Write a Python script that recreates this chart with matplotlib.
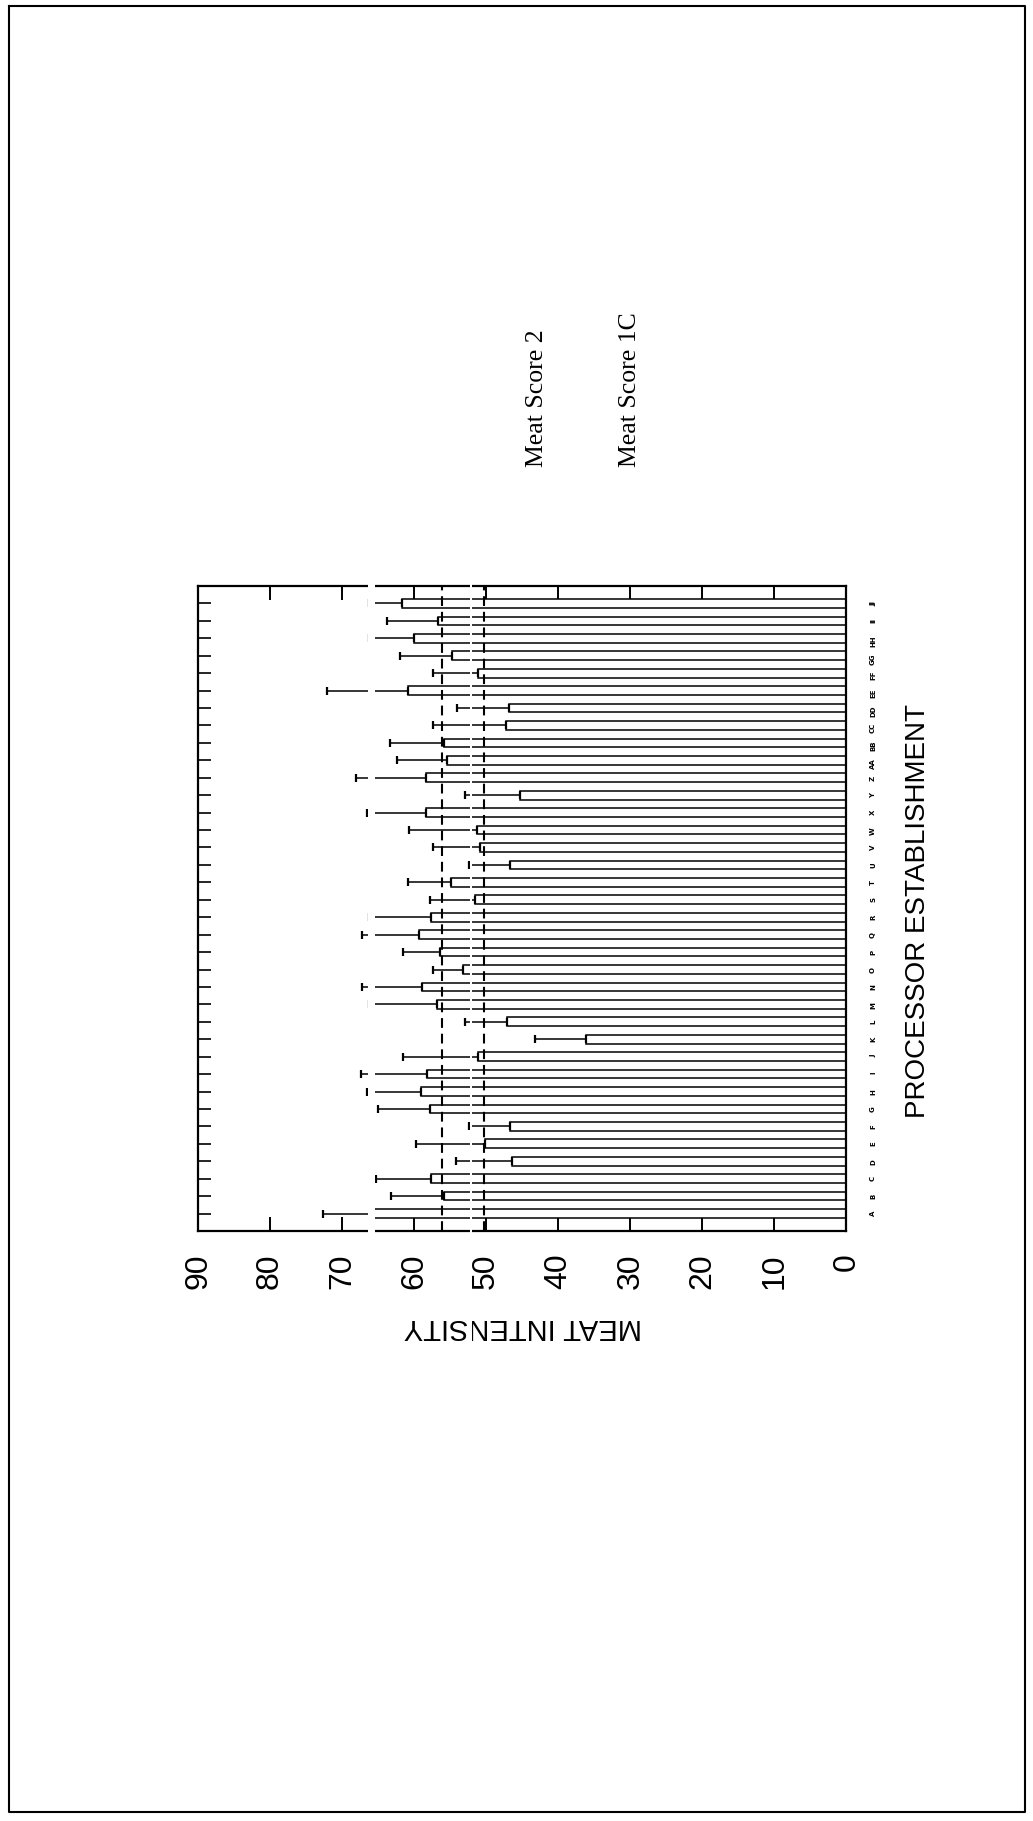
import matplotlib
matplotlib.use('Agg')
import matplotlib.pyplot as plt
import numpy as np

# processor establishments, bottom to top
CATEGORIES = list("ABCDEFGHIJKLMNOPQRSTUVWXYZ") + [c * 2 for c in "ABCDEFGHIJ"]

MEAN_SCORE = [66.0, 55.9, 57.6, 46.4, 50.2, 46.7, 57.8, 59.1, 58.2, 51.1,
              36.2, 47.1, 56.9, 58.9, 53.2, 56.4, 59.3, 57.7, 51.5, 54.9,
              46.7, 50.9, 51.3, 58.4, 45.3, 58.4, 55.4, 55.9, 47.2, 46.8,
              60.9, 51.1, 54.8, 60.0, 56.7, 61.7]

UPPER_LIMIT = [72.6, 63.2, 65.3, 54.2, 59.7, 52.4, 65.0, 66.6, 67.4, 61.6,
               43.2, 53.0, 66.2, 67.3, 57.4, 61.6, 67.3, 66.2, 57.8, 60.8,
               52.4, 57.4, 60.7, 66.5, 52.9, 68.1, 62.4, 63.4, 57.4, 54.1,
               72.1, 57.4, 61.9, 66.2, 63.8, 66.2]

REFERENCE_LINES = [56.1, 50.3]
VALUE_TICKS = list(range(0, 100, 10))

W, H = 1033, 1821
fig = plt.figure(figsize=(W / 100, H / 100), dpi=100)
fig.patch.set_facecolor('white')


def fx(px):
    return px / W


def fy(py):
    return 1 - py / H


ax = fig.add_axes([fx(198), fy(1231), fx(846.5) - fx(198), fy(586) - fy(1231)])

pos = np.arange(1, len(CATEGORIES) + 1)
mean = np.array(MEAN_SCORE)
upper = np.array(UPPER_LIMIT)

ax.barh(pos, mean, height=0.5, color='white', edgecolor='black', linewidth=1.1, zorder=2)
ax.errorbar(mean, pos, xerr=[np.zeros_like(mean), upper - mean], fmt='none',
            ecolor='black', elinewidth=1.1, capsize=3, capthick=1.6, zorder=3)

for v in REFERENCE_LINES:
    ax.axvline(v, color='black', linewidth=1.5, dashes=(4.7, 2.8), zorder=4)

ax.set_xlim(90, 0)
ax.set_ylim(0, len(CATEGORIES) + 1)
ax.set_xticks(VALUE_TICKS)
ax.set_xticklabels([str(t) for t in VALUE_TICKS], family='Liberation Sans', fontsize=23)
ax.set_yticks(pos)
ax.set_yticklabels(CATEGORIES, fontsize=5, fontweight='bold')

ax.tick_params(axis='x', direction='in', top=True, bottom=True, length=10, width=1.4,
               labelrotation=90, pad=16)
ax.tick_params(axis='y', direction='in', left=True, right=True, length=9, width=1.2,
               labelleft=False, labelright=True, labelrotation=90, pad=17)
for sp in ax.spines.values():
    sp.set_linewidth(1.6)

fig.text(fx(523), fy(1327), "MEAT INTENSITY", rotation=180, ha='center', va='center',
         family='Liberation Sans', fontsize=21)
fig.text(fx(918), fy(911), "PROCESSOR ESTABLISHMENT", rotation=90, ha='center', va='center',
         family='Liberation Sans', fontsize=20)
fig.text(fx(537), fy(467), "Meat Score 2", rotation=90, ha='center', va='bottom',
         family='Liberation Serif', fontsize=18.5)
fig.text(fx(630), fy(467), "Meat Score 1C", rotation=90, ha='center', va='bottom',
         family='Liberation Serif', fontsize=18.5)

# page border and the white scanner streaks running down the sheet
page = fig.add_axes([0, 0, 1, 1], zorder=10)
page.set_xlim(0, W)
page.set_ylim(H, 0)
page.axis('off')
page.patch.set_alpha(0)
page.plot([9, 1025, 1025, 9, 9], [6, 6, 1812, 1812, 6], color='black', linewidth=1.5)
for x0, x1 in [(367.5, 374.5), (469.5, 472)]:
    page.axvspan(x0, x1, color='white', linewidth=0)

fig.savefig('out.png', dpi=100, facecolor='white')
